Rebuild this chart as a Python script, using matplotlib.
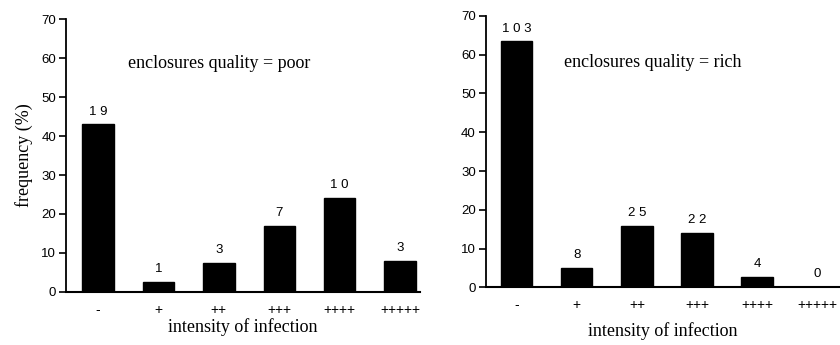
import numpy as np
import matplotlib
matplotlib.use('Agg')
import matplotlib.pyplot as plt

# infection intensity classes and results for the two enclosure types
aClass = ['-', '+', '++', '+++', '++++', '+++++']

aFreq_poor = [43.0, 2.5, 7.5, 17.0, 24.0, 8.0]     # frequency (%)
aCount_poor = [19, 1, 3, 7, 10, 3]                 # number of animals

aFreq_rich = [63.4, 5.0, 15.8, 14.0, 2.8, 0.0]
aCount_rich = [103, 8, 25, 22, 4, 0]

sFont_serif = 'Liberation Serif'
sFont_sans = 'Liberation Sans'

fig = plt.figure(figsize=(8.4, 3.45), dpi=100)
fig.patch.set_facecolor('white')

ax1 = fig.add_axes([0.0786, 0.1545, 0.4214, 0.789])
ax2 = fig.add_axes([0.578, 0.167, 0.422, 0.787])


def draw_panel(ax, aFreq, aCount, xlim, labelpad):
    x = np.arange(len(aClass))
    bars = ax.bar(x, aFreq, width=0.52, color='black', edgecolor='black')
    for rect, n in zip(bars, aCount):
        # spread the digits a little, like the typeset labels
        ax.annotate(' '.join(str(n)) if n >= 10 else str(n),
                    (rect.get_x() + rect.get_width() / 2, rect.get_height()),
                    xytext=(0, 5), textcoords='offset points',
                    ha='center', va='bottom', fontsize=9.5, family=sFont_sans)
    ax.set_xlim(*xlim)
    ax.set_ylim(0, 70)
    ax.set_yticks(np.arange(0, 71, 10))
    ax.set_xticks(x)
    ax.set_xticklabels(aClass, fontsize=10, family=sFont_sans)
    for lab in ax.get_yticklabels():
        lab.set_family(sFont_sans)
        lab.set_fontsize(9.5)
    ax.tick_params(axis='x', length=0, pad=8)
    ax.tick_params(axis='y', length=5, width=1.2, direction='out', pad=2)
    ax.spines['top'].set_visible(False)
    ax.spines['right'].set_visible(False)
    ax.spines['left'].set_linewidth(1.3)
    ax.spines['bottom'].set_linewidth(1.5)
    ax.set_xlabel('intensity of infection', family=sFont_serif, fontsize=13,
                  labelpad=labelpad)
    return ax


draw_panel(ax1, aFreq_poor, aCount_poor, (-0.53, 5.33), 1)
draw_panel(ax2, aFreq_rich, aCount_rich, (-0.52, 5.38), 7)

ax1.text(0.175, 0.84, 'enclosures quality = poor', transform=ax1.transAxes,
         family=sFont_serif, fontsize=13, va='center', ha='left')
ax2.text(0.22, 0.83, 'enclosures quality = rich', transform=ax2.transAxes,
         family=sFont_serif, fontsize=13, va='center', ha='left')

ax1.set_ylabel('frequency (%)', family=sFont_serif, fontsize=13, labelpad=6)

fig.savefig('out.png', dpi=100, facecolor='white')
plt.close(fig)
